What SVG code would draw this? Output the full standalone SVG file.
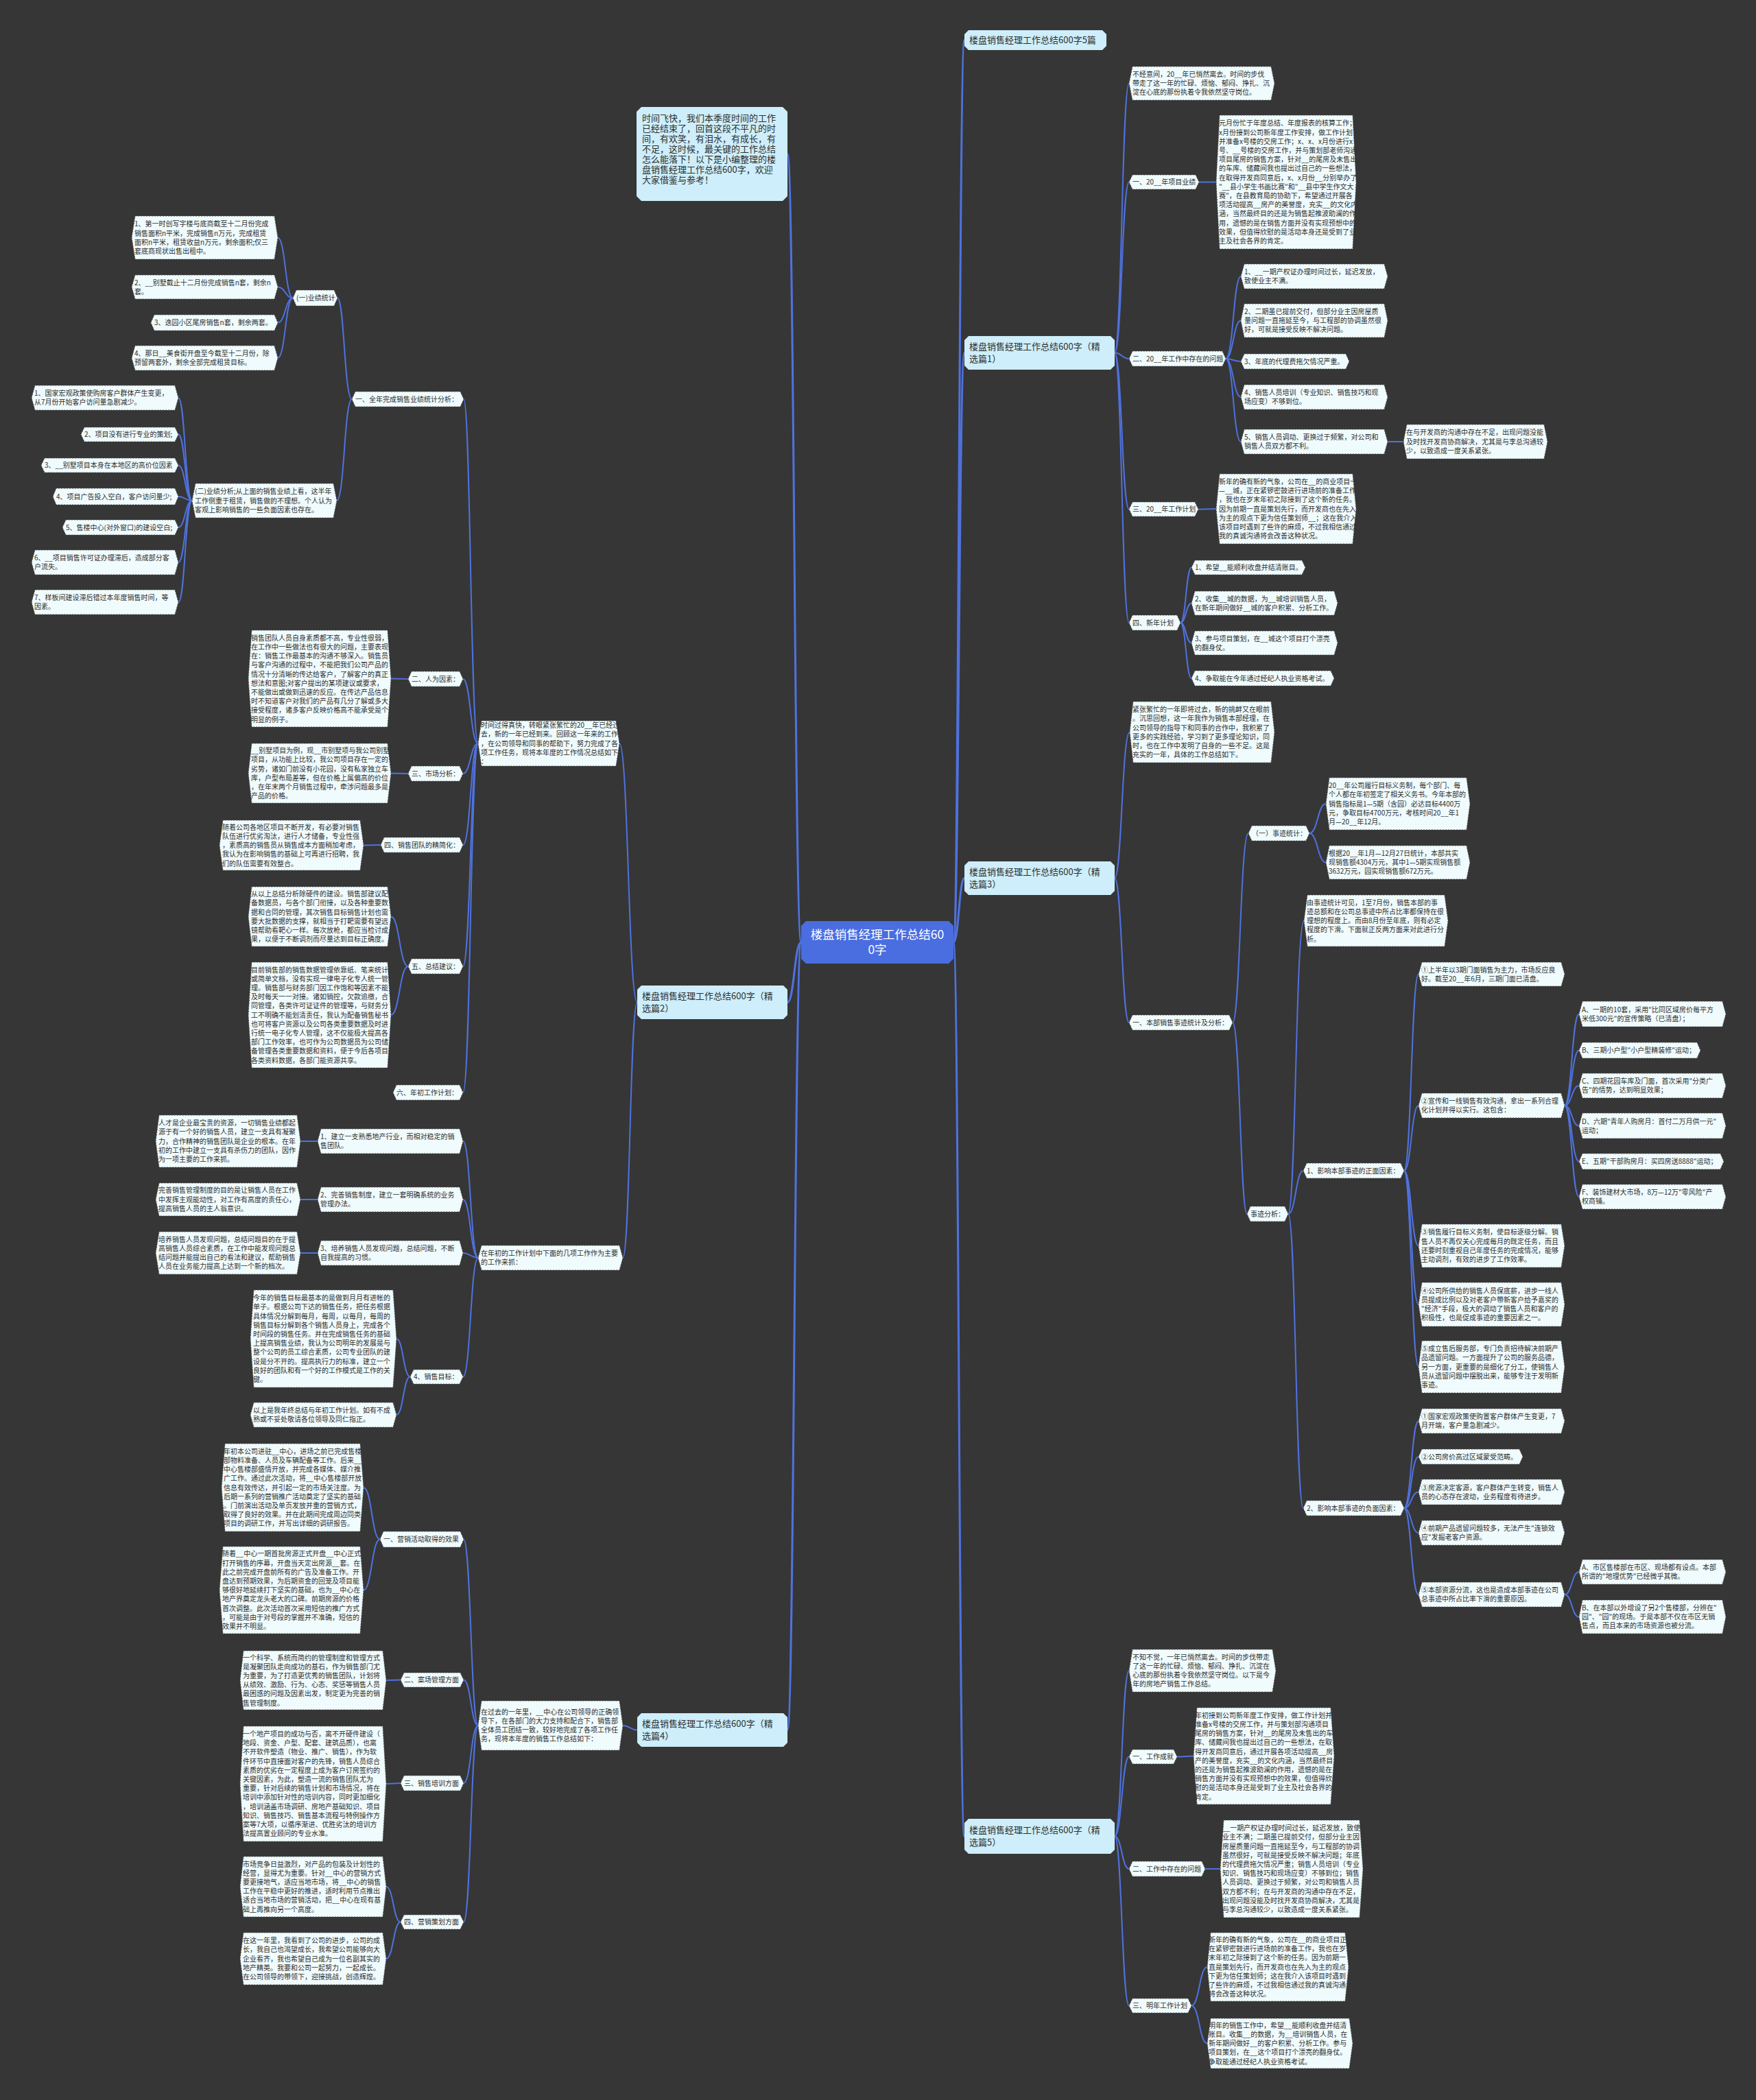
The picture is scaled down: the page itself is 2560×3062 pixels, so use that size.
<svg xmlns="http://www.w3.org/2000/svg" width="2560" height="3062" viewBox="0 0 2560 3062">
<style>
.bg{fill:#363636}
.c{fill:none;stroke:#4f72de;stroke-width:2}
.c3{fill:none;stroke:#4f72de;stroke-width:3}
.n polygon{fill:#f0fbfd;stroke:#555;stroke-width:1;stroke-dasharray:2 2}
.m polygon{fill:#cdeefa}
.r polygon{fill:#4a6de0}
text{font-family:"Noto Sans CJK SC","Noto Sans",sans-serif;fill:#2e2e2e}
.n text{font-size:10px}
.m text{font-size:13px}
.r text{font-size:17.5px;fill:#ffffff;text-anchor:middle}
.i text{font-size:13px}
</style>
<rect class="bg" x="0" y="0" width="2560" height="3062"/>
<g id="connectors">
<path class="c3" d="M1390 1374C1398 1374 1398 58.5 1406 58.5"/>
<path class="c3" d="M1390 1374C1398 1374 1398 514.5 1406 514.5"/>
<path class="c3" d="M1390 1374C1398 1374 1398 1280.5 1406 1280.5"/>
<path class="c3" d="M1390 1374C1398 1374 1398 2677.5 1406 2677.5"/>
<path class="c3" d="M1168 1374C1158 1374 1158 224.5 1148 224.5"/>
<path class="c3" d="M1168 1374C1158 1374 1158 1461.5 1148 1461.5"/>
<path class="c3" d="M1168 1374C1158 1374 1158 2522.5 1148 2522.5"/>
<path class="c" d="M1625 514.5C1635.5 514.5 1635.5 121.5 1646 121.5"/>
<path class="c" d="M1625 514.5C1635.5 514.5 1635.5 265.5 1646 265.5"/>
<path class="c" d="M1625 514.5C1635.5 514.5 1635.5 523 1646 523"/>
<path class="c" d="M1625 514.5C1635.5 514.5 1635.5 742.5 1646 742.5"/>
<path class="c" d="M1625 514.5C1635.5 514.5 1635.5 908 1646 908"/>
<path class="c" d="M1748 265.5L1773 265.5"/>
<path class="c" d="M1787 523C1798 523 1798 403 1809 403"/>
<path class="c" d="M1787 523C1798 523 1798 467.5 1809 467.5"/>
<path class="c" d="M1787 523C1798 523 1798 527 1809 527"/>
<path class="c" d="M1787 523C1798 523 1798 579 1809 579"/>
<path class="c" d="M1787 523C1798 523 1798 644 1809 644"/>
<path class="c" d="M2023 644L2046 644"/>
<path class="c" d="M1747 742.5C1760 742.5 1760 742 1773 742"/>
<path class="c" d="M1721 908C1729 908 1729 827.5 1737 827.5"/>
<path class="c" d="M1721 908C1729 908 1729 879.5 1737 879.5"/>
<path class="c" d="M1721 908C1729 908 1729 937.5 1737 937.5"/>
<path class="c" d="M1721 908C1729 908 1729 989 1737 989"/>
<path class="c" d="M1625 1280.5C1635.5 1280.5 1635.5 1067.5 1647 1067.5"/>
<path class="c" d="M1625 1280.5C1635.5 1280.5 1635.5 1491 1646 1491"/>
<path class="c" d="M1797 1491C1808 1491 1808 1215 1820 1215"/>
<path class="c" d="M1797 1491C1808 1491 1808 1770 1818 1770"/>
<path class="c" d="M1909 1215C1921 1215 1921 1172 1933 1172"/>
<path class="c" d="M1909 1215C1921 1215 1921 1257.5 1933 1257.5"/>
<path class="c" d="M1878 1770C1889 1770 1889 1342.5 1901 1342.5"/>
<path class="c" d="M1878 1770C1889 1770 1889 1707 1900 1707"/>
<path class="c" d="M1878 1770C1889 1770 1889 2199 1900 2199"/>
<path class="c" d="M2047 1707C2057.5 1707 2057.5 1420.5 2068 1420.5"/>
<path class="c" d="M2047 1707C2057.5 1707 2057.5 1612 2068 1612"/>
<path class="c" d="M2047 1707C2057.5 1707 2057.5 1816.5 2068 1816.5"/>
<path class="c" d="M2047 1707C2057.5 1707 2057.5 1902 2068 1902"/>
<path class="c" d="M2047 1707C2057.5 1707 2057.5 1993 2068 1993"/>
<path class="c" d="M2281 1612C2291.5 1612 2291.5 1478.5 2302 1478.5"/>
<path class="c" d="M2281 1612C2291.5 1612 2291.5 1531.5 2302 1531.5"/>
<path class="c" d="M2281 1612C2291.5 1612 2291.5 1583 2302 1583"/>
<path class="c" d="M2281 1612C2291.5 1612 2291.5 1641.5 2302 1641.5"/>
<path class="c" d="M2281 1612C2291.5 1612 2291.5 1693.5 2302 1693.5"/>
<path class="c" d="M2281 1612C2291.5 1612 2291.5 1745 2302 1745"/>
<path class="c" d="M2047 2199C2057.5 2199 2057.5 2072 2068 2072"/>
<path class="c" d="M2047 2199C2057.5 2199 2057.5 2124 2068 2124"/>
<path class="c" d="M2047 2199C2057.5 2199 2057.5 2175.5 2068 2175.5"/>
<path class="c" d="M2047 2199C2057.5 2199 2057.5 2235 2068 2235"/>
<path class="c" d="M2047 2199C2057.5 2199 2057.5 2325 2068 2325"/>
<path class="c" d="M2281 2325C2291.5 2325 2291.5 2292 2302 2292"/>
<path class="c" d="M2281 2325C2291.5 2325 2291.5 2357.5 2302 2357.5"/>
<path class="c" d="M1625 2677.5C1635.5 2677.5 1635.5 2436 1646 2436"/>
<path class="c" d="M1625 2677.5C1635.5 2677.5 1635.5 2561.5 1646 2561.5"/>
<path class="c" d="M1625 2677.5C1635.5 2677.5 1635.5 2725 1646 2725"/>
<path class="c" d="M1625 2677.5C1635.5 2677.5 1635.5 2924.5 1646 2924.5"/>
<path class="c" d="M1716 2561.5C1728 2561.5 1728 2560.5 1740 2560.5"/>
<path class="c" d="M1757 2725L1779 2725"/>
<path class="c" d="M1737 2924.5C1748.5 2924.5 1748.5 2868 1760 2868"/>
<path class="c" d="M1737 2924.5C1748.5 2924.5 1748.5 2979.5 1760 2979.5"/>
<path class="c" d="M929 1461.5C916 1461.5 916 1084 903 1084"/>
<path class="c" d="M929 1461.5C918.5 1461.5 918.5 1834 908 1834"/>
<path class="c" d="M697 1084C686 1084 686 582 676 582"/>
<path class="c" d="M697 1084C686 1084 686 990 675 990"/>
<path class="c" d="M697 1084C686 1084 686 1128 675 1128"/>
<path class="c" d="M697 1084C686 1084 686 1232 675 1232"/>
<path class="c" d="M697 1084C686 1084 686 1409 675 1409"/>
<path class="c" d="M697 1084C686 1084 686 1593 675 1593"/>
<path class="c" d="M513 582C502 582 502 434.5 492 434.5"/>
<path class="c" d="M513 582C502 582 502 730 491 730"/>
<path class="c" d="M427 434.5C416 434.5 416 346.5 405 346.5"/>
<path class="c" d="M427 434.5C416 434.5 416 418.5 405 418.5"/>
<path class="c" d="M427 434.5C416 434.5 416 470.5 405 470.5"/>
<path class="c" d="M427 434.5C416 434.5 416 522 405 522"/>
<path class="c" d="M280 730C270 730 270 580 260 580"/>
<path class="c" d="M280 730C270 730 270 633.5 260 633.5"/>
<path class="c" d="M280 730C270 730 270 678.5 260 678.5"/>
<path class="c" d="M280 730C270 730 270 724 260 724"/>
<path class="c" d="M280 730C270 730 270 769 260 769"/>
<path class="c" d="M280 730C270 730 270 820 260 820"/>
<path class="c" d="M280 730C270 730 270 878 260 878"/>
<path class="c" d="M595 990L570 989.5"/>
<path class="c" d="M595 1128L570 1127.5"/>
<path class="c" d="M555 1232L530 1232.5"/>
<path class="c" d="M595 1409C582.5 1409 582.5 1336.5 570 1336.5"/>
<path class="c" d="M595 1409C582.5 1409 582.5 1480 570 1480"/>
<path class="c" d="M697 1834C686 1834 686 1664 675 1664"/>
<path class="c" d="M697 1834C686 1834 686 1749 675 1749"/>
<path class="c" d="M697 1834C686 1834 686 1827 675 1827"/>
<path class="c" d="M697 1834C686 1834 686 2007.5 675 2007.5"/>
<path class="c" d="M463 1664L438 1664"/>
<path class="c" d="M463 1749L438 1749"/>
<path class="c" d="M463 1827L438 1827"/>
<path class="c" d="M598 2007.5C588 2007.5 588 1952 578 1952"/>
<path class="c" d="M598 2007.5C588 2007.5 588 2063 578 2063"/>
<path class="c" d="M929 2522.5C918.5 2522.5 918.5 2516 908 2516"/>
<path class="c" d="M697 2516C686.5 2516 686.5 2244.5 676 2244.5"/>
<path class="c" d="M697 2516C686.5 2516 686.5 2449.5 676 2449.5"/>
<path class="c" d="M697 2516C686.5 2516 686.5 2600 676 2600"/>
<path class="c" d="M697 2516C686.5 2516 686.5 2802.5 676 2802.5"/>
<path class="c" d="M554 2244.5C542 2244.5 542 2169 530 2169"/>
<path class="c" d="M554 2244.5C542 2244.5 542 2318.5 530 2318.5"/>
<path class="c" d="M584 2449.5L563 2450"/>
<path class="c" d="M584 2600L563 2601"/>
<path class="c" d="M584 2802.5C573.5 2802.5 573.5 2751 563 2751"/>
<path class="c" d="M584 2802.5C573.5 2802.5 573.5 2856 563 2856"/>
</g>

<g id="root" class="r"><polygon points="1175,1343 1383,1343 1390,1350 1390,1398 1383,1405 1175,1405 1168,1398 1168,1350"/><text x="1279" y="1369.3"><tspan x="1279">楼盘销售经理工作总结60</tspan><tspan x="1279" dy="22">0字</tspan></text></g>

<g id="intro" class="m i"><polygon points="935,156 1141,156 1148,163 1148,286 1141,293 935,293 928,286 928,163"/><text y="176.7"><tspan x="936">时间飞快，我们本季度时间的工作</tspan><tspan x="936" dy="15">已经结束了，回首这段不平凡的时</tspan><tspan x="936" dy="15">间，有欢笑，有泪水，有成长，有</tspan><tspan x="936" dy="15">不足，这时候，最关键的工作总结</tspan><tspan x="936" dy="15">怎么能落下！以下是小编整理的楼</tspan><tspan x="936" dy="15">盘销售经理工作总结600字，欢迎</tspan><tspan x="936" dy="15">大家借鉴与参考！</tspan></text></g>

<g id="main0" class="m"><polygon points="1412,44 1607,44 1613,50 1613,67 1607,73 1412,73 1406,67 1406,50"/><text y="63.2"><tspan x="1413">楼盘销售经理工作总结600字5篇</tspan></text></g>
<g id="main1" class="m"><polygon points="1412,490 1619,490 1625,496 1625,533 1619,539 1412,539 1406,533 1406,496"/><text y="510.2"><tspan x="1413">楼盘销售经理工作总结600字（精</tspan><tspan x="1413" dy="18">选篇1）</tspan></text></g>
<g id="main3" class="m"><polygon points="1412,1256 1619,1256 1625,1262 1625,1299 1619,1305 1412,1305 1406,1299 1406,1262"/><text y="1276.2"><tspan x="1413">楼盘销售经理工作总结600字（精</tspan><tspan x="1413" dy="18">选篇3）</tspan></text></g>
<g id="main5" class="m"><polygon points="1412,2652 1619,2652 1625,2658 1625,2697 1619,2703 1412,2703 1406,2697 1406,2658"/><text y="2673.2"><tspan x="1413">楼盘销售经理工作总结600字（精</tspan><tspan x="1413" dy="18">选篇5）</tspan></text></g>
<g id="main2" class="m"><polygon points="935,1437 1142,1437 1148,1443 1148,1480 1142,1486 935,1486 929,1480 929,1443"/><text y="1457.2"><tspan x="936">楼盘销售经理工作总结600字（精</tspan><tspan x="936" dy="18">选篇2）</tspan></text></g>
<g id="main4" class="m"><polygon points="935,2498 1142,2498 1148,2504 1148,2541 1142,2547 935,2547 929,2541 929,2504"/><text y="2518.2"><tspan x="936">楼盘销售经理工作总结600字（精</tspan><tspan x="936" dy="18">选篇4）</tspan></text></g>

<g id="a1" class="n"><polygon points="1646,121.5 1651,97 1853,97 1858,121.5 1853,146 1651,146"/><text y="111.9"><tspan x="1651">不经意间，20__年已悄然离去。时间的步伐</tspan><tspan x="1651" dy="13.2">带走了这一年的忙碌、烦恼、郁闷、挣扎、沉</tspan><tspan x="1651" dy="13.2">淀在心底的那份执着令我依然坚守岗位。</tspan></text></g>
<g id="a2" class="n"><polygon points="1646,265.5 1651,255 1743,255 1748,265.5 1743,276 1651,276"/><text y="269.1"><tspan x="1651">一、20__年项目业绩</tspan></text></g>
<g id="a2c" class="n"><polygon points="1773,265.5 1778,168 1972,168 1977,265.5 1972,363 1778,363"/><text y="183.3"><tspan x="1777">元月份忙于年度总结、年度报表的核算工作；</tspan><tspan x="1777" dy="13.2">x月份接到公司新年度工作安排，做工作计划</tspan><tspan x="1777" dy="13.2">并准备x号楼的交房工作；x、x、x月份进行x</tspan><tspan x="1777" dy="13.2">号、__号楼的交房工作，并与策划部老师沟通</tspan><tspan x="1777" dy="13.2">项目尾房的销售方案，针对__的尾房及未售出</tspan><tspan x="1777" dy="13.2">的车库、储藏间我也提出过自己的一些想法，</tspan><tspan x="1777" dy="13.2">在取得开发商同意后，x、x月份__分别举办了</tspan><tspan x="1777" dy="13.2">"__县小学生书画比赛"和"__县中学生作文大</tspan><tspan x="1777" dy="13.2">赛"，在县教育局的协助下，希望通过开展各</tspan><tspan x="1777" dy="13.2">项活动提高__房产的美誉度，充实__的文化内</tspan><tspan x="1777" dy="13.2">涵，当然最终目的还是为销售起推波助澜的作</tspan><tspan x="1777" dy="13.2">用，遗憾的是在销售方面并没有实现预想中的</tspan><tspan x="1777" dy="13.2">效果，但值得欣慰的是活动本身还是受到了业</tspan><tspan x="1777" dy="13.2">主及社会各界的肯定。</tspan></text></g>
<g id="a3" class="n"><polygon points="1646,523 1651,512 1782,512 1787,523 1782,534 1651,534"/><text y="526.6"><tspan x="1651">二、20__年工作中存在的问题</tspan></text></g>
<g id="a3c1" class="n"><polygon points="1809,403 1814,385 2018,385 2023,403 2018,421 1814,421"/><text y="400"><tspan x="1814">1、__一期产权证办理时间过长，延迟发放，</tspan><tspan x="1814" dy="13.2">致使业主不满。</tspan></text></g>
<g id="a3c2" class="n"><polygon points="1809,467.5 1814,443 2018,443 2023,467.5 2018,492 1814,492"/><text y="457.9"><tspan x="1814">2、二期虽已提前交付，但部分业主因房屋质</tspan><tspan x="1814" dy="13.2">量问题一直拖延至今，与工程部的协调虽然很</tspan><tspan x="1814" dy="13.2">好，可就是接受反映不解决问题。</tspan></text></g>
<g id="a3c3" class="n"><polygon points="1809,527 1814,516 1962,516 1967,527 1962,538 1814,538"/><text y="530.6"><tspan x="1814">3、年底的代理费拖欠情况严重。</tspan></text></g>
<g id="a3c4" class="n"><polygon points="1809,579 1814,561 2018,561 2023,579 2018,597 1814,597"/><text y="576"><tspan x="1814">4、销售人员培训（专业知识、销售技巧和现</tspan><tspan x="1814" dy="13.2">场应变）不够到位。</tspan></text></g>
<g id="a3c5" class="n"><polygon points="1809,644 1814,626 2018,626 2023,644 2018,662 1814,662"/><text y="641"><tspan x="1814">5、销售人员调动、更换过于频繁，对公司和</tspan><tspan x="1814" dy="13.2">销售人员双方都不利。</tspan></text></g>
<g id="a3c5c" class="n"><polygon points="2046,644 2051,619 2251,619 2256,644 2251,669 2051,669"/><text y="634.4"><tspan x="2050">在与开发商的沟通中存在不足，出现问题没能</tspan><tspan x="2050" dy="13.2">及时找开发商协商解决，尤其是与李总沟通较</tspan><tspan x="2050" dy="13.2">少，以致造成一度关系紧张。</tspan></text></g>
<g id="a4" class="n"><polygon points="1646,742.5 1651,732 1742,732 1747,742.5 1742,753 1651,753"/><text y="746.1"><tspan x="1651">三、20__年工作计划</tspan></text></g>
<g id="a4c" class="n"><polygon points="1773,742 1778,691 1972,691 1977,742 1972,793 1778,793"/><text y="706"><tspan x="1777">新年的确有新的气象，公司在__的商业项目一</tspan><tspan x="1777" dy="13.2">—__城，正在紧锣密鼓进行进场前的准备工作</tspan><tspan x="1777" dy="13.2">，我也在岁末年初之际接到了这个新的任务。</tspan><tspan x="1777" dy="13.2">因为前期一直是策划先行，而开发商也在先入</tspan><tspan x="1777" dy="13.2">为主的观点下更为信任策划师__；这在我介入</tspan><tspan x="1777" dy="13.2">该项目时遇到了些许的麻烦，不过我相信通过</tspan><tspan x="1777" dy="13.2">我的真诚沟通将会改善这种状况。</tspan></text></g>
<g id="a5" class="n"><polygon points="1646,908 1651,897 1716,897 1721,908 1716,919 1651,919"/><text y="911.6"><tspan x="1651">四、新年计划</tspan></text></g>
<g id="a5c1" class="n"><polygon points="1737,827.5 1742,817 1898,817 1903,827.5 1898,838 1742,838"/><text y="831.1"><tspan x="1742">1、希望__能顺利收盘并结清账目。</tspan></text></g>
<g id="a5c2" class="n"><polygon points="1737,879.5 1742,862 1945,862 1950,879.5 1945,897 1742,897"/><text y="876.5"><tspan x="1742">2、收集__城的数据，为__城培训销售人员，</tspan><tspan x="1742" dy="13.2">在新年期间做好__城的客户积累、分析工作。</tspan></text></g>
<g id="a5c3" class="n"><polygon points="1737,937.5 1742,920 1945,920 1950,937.5 1945,955 1742,955"/><text y="934.5"><tspan x="1742">3、参与项目策划，在__城这个项目打个漂亮</tspan><tspan x="1742" dy="13.2">的翻身仗。</tspan></text></g>
<g id="a5c4" class="n"><polygon points="1737,989 1742,978 1940,978 1945,989 1940,1000 1742,1000"/><text y="992.6"><tspan x="1742">4、争取能在今年通过经纪人执业资格考试。</tspan></text></g>

<g id="b1" class="n"><polygon points="1647,1067.5 1652,1023 1853,1023 1858,1067.5 1853,1112 1652,1112"/><text y="1038.1"><tspan x="1651">紧张繁忙的一年即将过去，新的挑衅又在眼前</tspan><tspan x="1651" dy="13.2">。沉思回想，这一年我作为销售本部经理，在</tspan><tspan x="1651" dy="13.2">公司领导的指导下和同事的合作中，我积累了</tspan><tspan x="1651" dy="13.2">更多的实践经验，学习到了更多理论知识，同</tspan><tspan x="1651" dy="13.2">时，也在工作中发明了自身的一些不足。这是</tspan><tspan x="1651" dy="13.2">充实的一年，具体的工作总结如下。</tspan></text></g>
<g id="b2" class="n"><polygon points="1646,1491 1651,1480 1792,1480 1797,1491 1792,1502 1651,1502"/><text y="1494.6"><tspan x="1651">一、本部销售事迹统计及分析：</tspan></text></g>
<g id="b3" class="n"><polygon points="1820,1215 1825,1204 1904,1204 1909,1215 1904,1226 1825,1226"/><text y="1218.6"><tspan x="1825">（一）事迹统计：</tspan></text></g>
<g id="b3c1" class="n"><polygon points="1933,1172 1938,1134 2138,1134 2143,1172 2138,1210 1938,1210"/><text y="1149.2"><tspan x="1937">20__年公司履行目标义务制，每个部门、每</tspan><tspan x="1937" dy="13.2">个人都在年初签定了相关义务书。今年本部的</tspan><tspan x="1937" dy="13.2">销售指标是1—5期（含园）必达目标4400万</tspan><tspan x="1937" dy="13.2">元，争取目标4700万元，考核时间20__年1</tspan><tspan x="1937" dy="13.2">月—20__年12月。</tspan></text></g>
<g id="b3c2" class="n"><polygon points="1933,1257.5 1938,1233 2138,1233 2143,1257.5 2138,1282 1938,1282"/><text y="1247.9"><tspan x="1937">根据20__年1月—12月27日统计，本部共实</tspan><tspan x="1937" dy="13.2">现销售额4304万元，其中1—5期实现销售额</tspan><tspan x="1937" dy="13.2">3632万元，园实现销售额672万元。</tspan></text></g>
<g id="b4" class="n"><polygon points="1818,1770 1823,1759 1873,1759 1878,1770 1873,1781 1823,1781"/><text y="1773.6"><tspan x="1823">事迹分析：</tspan></text></g>
<g id="b5" class="n"><polygon points="1901,1342.5 1906,1305 2106,1305 2111,1342.5 2106,1380 1906,1380"/><text y="1319.7"><tspan x="1905">由事迹统计可见，1至7月份，销售本部的事</tspan><tspan x="1905" dy="13.2">迹总额和在公司总事迹中所占比率都保持在很</tspan><tspan x="1905" dy="13.2">理想的程度上。而由8月份至年底，则有必定</tspan><tspan x="1905" dy="13.2">程度的下滑。下面就正反两方面来对此进行分</tspan><tspan x="1905" dy="13.2">析。</tspan></text></g>
<g id="b6" class="n"><polygon points="1900,1707 1905,1696 2042,1696 2047,1707 2042,1718 1905,1718"/><text y="1710.6"><tspan x="1905">1、影响本部事迹的正面因素：</tspan></text></g>
<g id="b6c1" class="n"><polygon points="2068,1420.5 2073,1403 2276,1403 2281,1420.5 2276,1438 2073,1438"/><text y="1417.5"><tspan x="2072">①上半年以3期门面销售为主力，市场反应良</tspan><tspan x="2072" dy="13.2">好。截至20__年6月，三期门面已清盘。</tspan></text></g>
<g id="b6c2" class="n"><polygon points="2068,1612 2073,1594 2276,1594 2281,1612 2276,1630 2073,1630"/><text y="1609"><tspan x="2072">②宣传和一线销售有效沟通，拿出一系列合理</tspan><tspan x="2072" dy="13.2">化计划并得以实行。这包含：</tspan></text></g>
<g id="b6c3" class="n"><polygon points="2068,1816.5 2073,1785 2276,1785 2281,1816.5 2276,1848 2073,1848"/><text y="1800.3"><tspan x="2072">③销售履行目标义务制，使目标逐级分解。销</tspan><tspan x="2072" dy="13.2">售人员不再仅关心完成每月的既定任务，而且</tspan><tspan x="2072" dy="13.2">还要时刻重视自己年度任务的完成情况，能够</tspan><tspan x="2072" dy="13.2">主动调剂，有效的进步了工作效率。</tspan></text></g>
<g id="b6c4" class="n"><polygon points="2068,1902 2073,1870 2276,1870 2281,1902 2276,1934 2073,1934"/><text y="1885.8"><tspan x="2072">④公司所供给的销售人员保底薪，进步一线人</tspan><tspan x="2072" dy="13.2">员提成比例以及对老客户带新客户给予嘉奖的</tspan><tspan x="2072" dy="13.2">"经济"手段，极大的调动了销售人员和客户的</tspan><tspan x="2072" dy="13.2">积极性，也是促成事迹的重要因素之一。</tspan></text></g>
<g id="b6c5" class="n"><polygon points="2068,1993 2073,1955 2276,1955 2281,1993 2276,2031 2073,2031"/><text y="1970.2"><tspan x="2072">⑤成立售后服务部，专门负责招待解决前期产</tspan><tspan x="2072" dy="13.2">品遗留问题。一方面提升了公司的服务品德，</tspan><tspan x="2072" dy="13.2">另一方面，更重要的是细化了分工，使销售人</tspan><tspan x="2072" dy="13.2">员从遗留问题中摆脱出来，能够专注于发明新</tspan><tspan x="2072" dy="13.2">事迹。</tspan></text></g>
<g id="b6c2a" class="n"><polygon points="2302,1478.5 2307,1460 2511,1460 2516,1478.5 2511,1497 2307,1497"/><text y="1475.5"><tspan x="2306">A、一期的10套，采用"比同区域房价每平方</tspan><tspan x="2306" dy="13.2">米低300元"的宣传策略（已清盘）；</tspan></text></g>
<g id="b6c2b" class="n"><polygon points="2302,1531.5 2307,1520 2474,1520 2479,1531.5 2474,1543 2307,1543"/><text y="1535.1"><tspan x="2306">B、三期小户型"小户型精装修"运动；</tspan></text></g>
<g id="b6c2c" class="n"><polygon points="2302,1583 2307,1565 2511,1565 2516,1583 2511,1601 2307,1601"/><text y="1580"><tspan x="2306">C、四期花园车库及门面，首次采用"分类广</tspan><tspan x="2306" dy="13.2">告"的情势，达到明显效果；</tspan></text></g>
<g id="b6c2d" class="n"><polygon points="2302,1641.5 2307,1623 2511,1623 2516,1641.5 2511,1660 2307,1660"/><text y="1638.5"><tspan x="2306">D、六期"青年人购房月：首付二万月供一元"</tspan><tspan x="2306" dy="13.2">运动；</tspan></text></g>
<g id="b6c2e" class="n"><polygon points="2302,1693.5 2307,1682 2508,1682 2513,1693.5 2508,1705 2307,1705"/><text y="1697.1"><tspan x="2306">E、五期"干部购房月：买四房送8888"运动；</tspan></text></g>
<g id="b6c2f" class="n"><polygon points="2302,1745 2307,1727 2511,1727 2516,1745 2511,1763 2307,1763"/><text y="1742"><tspan x="2306">F、装饰建材大市场，8万—12万"零风险"产</tspan><tspan x="2306" dy="13.2">权商铺。</tspan></text></g>
<g id="b7" class="n"><polygon points="1900,2199 1905,2188 2042,2188 2047,2199 2042,2210 1905,2210"/><text y="2202.6"><tspan x="1905">2、影响本部事迹的负面因素：</tspan></text></g>
<g id="b7c1" class="n"><polygon points="2068,2072 2073,2054 2276,2054 2281,2072 2276,2090 2073,2090"/><text y="2069"><tspan x="2072">①国家宏观政策使购置客户群体产生变更，7</tspan><tspan x="2072" dy="13.2">月开端，客户量急剧减少。</tspan></text></g>
<g id="b7c2" class="n"><polygon points="2068,2124 2073,2113 2215,2113 2220,2124 2215,2135 2073,2135"/><text y="2127.6"><tspan x="2072">②公司房价高过区域蒙受范畴。</tspan></text></g>
<g id="b7c3" class="n"><polygon points="2068,2175.5 2073,2157 2276,2157 2281,2175.5 2276,2194 2073,2194"/><text y="2172.5"><tspan x="2072">③房源决定客源，客户群体产生转变，销售人</tspan><tspan x="2072" dy="13.2">员的心态存在波动，业务程度有待进步。</tspan></text></g>
<g id="b7c4" class="n"><polygon points="2068,2235 2073,2217 2276,2217 2281,2235 2276,2253 2073,2253"/><text y="2232"><tspan x="2072">④前期产品遗留问题较多，无法产生"连锁效</tspan><tspan x="2072" dy="13.2">应"发掘老客户资源。</tspan></text></g>
<g id="b7c5" class="n"><polygon points="2068,2325 2073,2307 2276,2307 2281,2325 2276,2343 2073,2343"/><text y="2322"><tspan x="2072">⑤本部资源分流，这也是造成本部事迹在公司</tspan><tspan x="2072" dy="13.2">总事迹中所占比率下滑的重要原因。</tspan></text></g>
<g id="b7c5a" class="n"><polygon points="2302,2292 2307,2274 2511,2274 2516,2292 2511,2310 2307,2310"/><text y="2289"><tspan x="2306">A、市区售楼部在市区、现场都有设点。本部</tspan><tspan x="2306" dy="13.2">所谓的"地理优势"已经微乎其微。</tspan></text></g>
<g id="b7c5b" class="n"><polygon points="2302,2357.5 2307,2333 2511,2333 2516,2357.5 2511,2382 2307,2382"/><text y="2347.9"><tspan x="2306">B、在本部以外增设了另2个售楼部，分辨在"</tspan><tspan x="2306" dy="13.2">园"、"园"的现场。于是本部不仅在市区无销</tspan><tspan x="2306" dy="13.2">售点，而且本来的市场资源也被分流。</tspan></text></g>

<g id="c1" class="n"><polygon points="1646,2436 1651,2405 1855,2405 1860,2436 1855,2467 1651,2467"/><text y="2419.8"><tspan x="1651">不知不觉，一年已悄然离去。时间的步伐带走</tspan><tspan x="1651" dy="13.2">了这一年的忙碌、烦恼、郁闷、挣扎、沉淀在</tspan><tspan x="1651" dy="13.2">心底的那份执着令我依然坚守岗位。以下是今</tspan><tspan x="1651" dy="13.2">年的房地产销售工作总结。</tspan></text></g>
<g id="c2" class="n"><polygon points="1646,2561.5 1651,2551 1711,2551 1716,2561.5 1711,2572 1651,2572"/><text y="2565.1"><tspan x="1651">一、工作成就</tspan></text></g>
<g id="c2c" class="n"><polygon points="1740,2560.5 1745,2490 1940,2490 1945,2560.5 1940,2631 1745,2631"/><text y="2504.7"><tspan x="1742">年初接到公司新年度工作安排，做工作计划并</tspan><tspan x="1742" dy="13.2">准备x号楼的交房工作，并与策划部沟通项目</tspan><tspan x="1742" dy="13.2">尾房的销售方案，针对__的尾房及未售出的车</tspan><tspan x="1742" dy="13.2">库、储藏间我也提出过自己的一些想法，在取</tspan><tspan x="1742" dy="13.2">得开发商同意后，通过开展各项活动提高__房</tspan><tspan x="1742" dy="13.2">产的美誉度，充实__的文化内涵，当然最终目</tspan><tspan x="1742" dy="13.2">的还是为销售起推波助澜的作用，遗憾的是在</tspan><tspan x="1742" dy="13.2">销售方面并没有实现预想中的效果，但值得欣</tspan><tspan x="1742" dy="13.2">慰的是活动本身还是受到了业主及社会各界的</tspan><tspan x="1742" dy="13.2">肯定。</tspan></text></g>
<g id="c3" class="n"><polygon points="1646,2725 1651,2714 1752,2714 1757,2725 1752,2736 1651,2736"/><text y="2728.6"><tspan x="1651">二、工作中存在的问题</tspan></text></g>
<g id="c3c" class="n"><polygon points="1779,2725 1784,2654 1982,2654 1987,2725 1982,2796 1784,2796"/><text y="2669.2"><tspan x="1782">__一期产权证办理时间过长，延迟发放，致使</tspan><tspan x="1782" dy="13.2">业主不满；二期虽已提前交付，但部分业主因</tspan><tspan x="1782" dy="13.2">房屋质量问题一直拖延至今，与工程部的协调</tspan><tspan x="1782" dy="13.2">虽然很好，可就是接受反映不解决问题；年底</tspan><tspan x="1782" dy="13.2">的代理费拖欠情况严重；销售人员培训（专业</tspan><tspan x="1782" dy="13.2">知识、销售技巧和现场应变）不够到位；销售</tspan><tspan x="1782" dy="13.2">人员调动、更换过于频繁，对公司和销售人员</tspan><tspan x="1782" dy="13.2">双方都不利；在与开发商的沟通中存在不足，</tspan><tspan x="1782" dy="13.2">出现问题没能及时找开发商协商解决，尤其是</tspan><tspan x="1782" dy="13.2">与李总沟通较少，以致造成一度关系紧张。</tspan></text></g>
<g id="c4" class="n"><polygon points="1646,2924.5 1651,2914 1732,2914 1737,2924.5 1732,2935 1651,2935"/><text y="2928.1"><tspan x="1651">三、明年工作计划</tspan></text></g>
<g id="c4c1" class="n"><polygon points="1760,2868 1765,2818 1961,2818 1966,2868 1961,2918 1765,2918"/><text y="2832"><tspan x="1762">新年的确有新的气象，公司在__的商业项目正</tspan><tspan x="1762" dy="13.2">在紧锣密鼓进行进场前的准备工作，我也在岁</tspan><tspan x="1762" dy="13.2">末年初之际接到了这个新的任务。因为前期一</tspan><tspan x="1762" dy="13.2">直是策划先行，而开发商也在先入为主的观点</tspan><tspan x="1762" dy="13.2">下更为信任策划师；这在我介入该项目时遇到</tspan><tspan x="1762" dy="13.2">了些许的麻烦，不过我相信通过我的真诚沟通</tspan><tspan x="1762" dy="13.2">将会改善这种状况。</tspan></text></g>
<g id="c4c2" class="n"><polygon points="1760,2979.5 1765,2943 1967,2943 1972,2979.5 1967,3016 1765,3016"/><text y="2956.7"><tspan x="1762">明年的销售工作中，希望__能顺利收盘并结清</tspan><tspan x="1762" dy="13.2">账目。收集__的数据，为__培训销售人员，在</tspan><tspan x="1762" dy="13.2">新年期间做好__的客户积累、分析工作。参与</tspan><tspan x="1762" dy="13.2">项目策划，在__这个项目打个漂亮的翻身仗。</tspan><tspan x="1762" dy="13.2">争取能通过经纪人执业资格考试。</tspan></text></g>

<g id="d0" class="n"><polygon points="697,1084 702,1051 898,1051 903,1084 898,1117 702,1117"/><text y="1061.2"><tspan x="701">时间过得真快，转眼紧张繁忙的20__年已经过</tspan><tspan x="701" dy="13.2">去，新的一年已经到来。回顾这一年来的工作</tspan><tspan x="701" dy="13.2">，在公司领导和同事的帮助下，努力完成了各</tspan><tspan x="701" dy="13.2">项工作任务，现将本年度的工作情况总结如下</tspan><tspan x="701" dy="13.2">：</tspan></text></g>
<g id="d1" class="n"><polygon points="513,582 518,571 671,571 676,582 671,593 518,593"/><text y="585.6"><tspan x="518">一、全年完成销售业绩统计分析：</tspan></text></g>
<g id="d1a" class="n"><polygon points="427,434.5 432,423 487,423 492,434.5 487,446 432,446"/><text y="438.1"><tspan x="432">(一)业绩统计</tspan></text></g>
<g id="d1a1" class="n"><polygon points="192,346.5 197,315 400,315 405,346.5 400,378 197,378"/><text y="330.3"><tspan x="196">1、第一时创写字楼与底商截至十二月份完成</tspan><tspan x="196" dy="13.2">销售面积n平米，完成销售n万元，完成租赁</tspan><tspan x="196" dy="13.2">面积n平米，租赁收益n万元，剩余面积;仅三</tspan><tspan x="196" dy="13.2">套底商现状出售出租中。</tspan></text></g>
<g id="d1a2" class="n"><polygon points="192,418.5 197,401 400,401 405,418.5 400,436 197,436"/><text y="415.5"><tspan x="196">2、__别墅截止十二月份完成销售n套，剩余n</tspan><tspan x="196" dy="13.2">套。</tspan></text></g>
<g id="d1a3" class="n"><polygon points="220,470.5 225,459 400,459 405,470.5 400,482 225,482"/><text y="474.1"><tspan x="225">3、逸园小区尾房销售n套，剩余两套。</tspan></text></g>
<g id="d1a4" class="n"><polygon points="192,522 197,504 400,504 405,522 400,540 197,540"/><text y="519"><tspan x="196">4、那日__美食街开盘至今截至十二月份，除</tspan><tspan x="196" dy="13.2">预留两套外，剩余全部完成租赁目标。</tspan></text></g>
<g id="d1b" class="n"><polygon points="280,730 285,705 486,705 491,730 486,755 285,755"/><text y="720.4"><tspan x="284">(二)业绩分析;从上面的销售业绩上看，这半年</tspan><tspan x="284" dy="13.2">工作侧重于租赁，销售做的不理想。个人认为</tspan><tspan x="284" dy="13.2">客观上影响销售的一些负面因素也存在。</tspan></text></g>
<g id="d1b1" class="n"><polygon points="46,580 51,562 255,562 260,580 255,598 51,598"/><text y="577"><tspan x="50">1、国家宏观政策使购房客户群体产生变更，</tspan><tspan x="50" dy="13.2">从7月份开始客户访问量急剧减少。</tspan></text></g>
<g id="d1b2" class="n"><polygon points="118,633.5 123,623 255,623 260,633.5 255,644 123,644"/><text y="637.1"><tspan x="123">2、项目没有进行专业的策划;</tspan></text></g>
<g id="d1b3" class="n"><polygon points="60,678.5 65,668 255,668 260,678.5 255,689 65,689"/><text y="682.1"><tspan x="65">3、__别墅项目本身在本地区的高价位因素</tspan></text></g>
<g id="d1b4" class="n"><polygon points="77,724 82,712 255,712 260,724 255,736 82,736"/><text y="727.6"><tspan x="82">4、项目广告投入空白，客户访问量少;</tspan></text></g>
<g id="d1b5" class="n"><polygon points="91,769 96,758 255,758 260,769 255,780 96,780"/><text y="772.6"><tspan x="96">5、售楼中心(对外窗口)的建设空白;</tspan></text></g>
<g id="d1b6" class="n"><polygon points="46,820 51,802 255,802 260,820 255,838 51,838"/><text y="817"><tspan x="50">6、__项目销售许可证办理滞后，造成部分客</tspan><tspan x="50" dy="13.2">户流失。</tspan></text></g>
<g id="d1b7" class="n"><polygon points="46,878 51,860 255,860 260,878 255,896 51,896"/><text y="875"><tspan x="50">7、样板间建设滞后错过本年度销售时间，等</tspan><tspan x="50" dy="13.2">因素。</tspan></text></g>
<g id="d2" class="n"><polygon points="595,990 600,979 670,979 675,990 670,1001 600,1001"/><text y="993.6"><tspan x="600">二、人为因素：</tspan></text></g>
<g id="d2c" class="n"><polygon points="362,989.5 367,919 565,919 570,989.5 565,1060 367,1060"/><text y="933.7"><tspan x="366">销售团队人员自身素质都不高，专业性很弱，</tspan><tspan x="366" dy="13.2">在工作中一些做法也有很大的问题，主要表现</tspan><tspan x="366" dy="13.2">在：销售工作最基本的沟通不够深入。销售员</tspan><tspan x="366" dy="13.2">与客户沟通的过程中，不能把我们公司产品的</tspan><tspan x="366" dy="13.2">情况十分清晰的传达给客户，了解客户的真正</tspan><tspan x="366" dy="13.2">想法和意图;对客户提出的某项建议或要求，</tspan><tspan x="366" dy="13.2">不能做出或做到迅速的反应。在传达产品信息</tspan><tspan x="366" dy="13.2">时不知道客户对我们的产品有几分了解或多大</tspan><tspan x="366" dy="13.2">接受程度，诸多客户反映价格高不能承受是个</tspan><tspan x="366" dy="13.2">明显的例子。</tspan></text></g>
<g id="d3" class="n"><polygon points="595,1128 600,1117 670,1117 675,1128 670,1139 600,1139"/><text y="1131.6"><tspan x="600">三、市场分析：</tspan></text></g>
<g id="d3c" class="n"><polygon points="362,1127.5 367,1084 565,1084 570,1127.5 565,1171 367,1171"/><text y="1098.1"><tspan x="366">__别墅项目为例，现__市别墅项与我公司别墅</tspan><tspan x="366" dy="13.2">项目，从功能上比较，我公司项目存在一定的</tspan><tspan x="366" dy="13.2">劣势，诸如门前没有小花园，没有私家独立车</tspan><tspan x="366" dy="13.2">库，户型布局差等，但在价格上属偏高的价位</tspan><tspan x="366" dy="13.2">，在年末两个月销售过程中，牵涉问题最多是</tspan><tspan x="366" dy="13.2">产品的价格。</tspan></text></g>
<g id="d4" class="n"><polygon points="555,1232 560,1221 670,1221 675,1232 670,1243 560,1243"/><text y="1235.6"><tspan x="560">四、销售团队的精简化：</tspan></text></g>
<g id="d4c" class="n"><polygon points="320,1232.5 325,1196 525,1196 530,1232.5 525,1269 325,1269"/><text y="1209.7"><tspan x="324">随着公司各地区项目不断开发，有必要对销售</tspan><tspan x="324" dy="13.2">队伍进行优劣淘汰，进行人才储备，专业性强</tspan><tspan x="324" dy="13.2">，素质高的销售员从销售成本方面稍加考虑，</tspan><tspan x="324" dy="13.2">我认为在影响销售的基础上可再进行招聘，我</tspan><tspan x="324" dy="13.2">们的队伍需要有效整合。</tspan></text></g>
<g id="d5" class="n"><polygon points="595,1409 600,1398 670,1398 675,1409 670,1420 600,1420"/><text y="1412.6"><tspan x="600">五、总结建议：</tspan></text></g>
<g id="d5c1" class="n"><polygon points="362,1336.5 367,1293 565,1293 570,1336.5 565,1380 367,1380"/><text y="1307.1"><tspan x="366">从以上总结分析除硬件的建设。销售部建议配</tspan><tspan x="366" dy="13.2">备数据员，与各个部门衔接，以及各种重要数</tspan><tspan x="366" dy="13.2">据和合同的管理，其次销售目标销售计划也需</tspan><tspan x="366" dy="13.2">要大批数据的支撑，就相当于打靶需要有望远</tspan><tspan x="366" dy="13.2">镜帮助看靶心一样。每次放枪，都应当检讨成</tspan><tspan x="366" dy="13.2">果，以便于不断调剂而尽量达到目标正确度。</tspan></text></g>
<g id="d5c2" class="n"><polygon points="362,1480 367,1403 565,1403 570,1480 565,1557 367,1557"/><text y="1417.6"><tspan x="366">目前销售部的销售数据管理依靠纸、笔来统计</tspan><tspan x="366" dy="13.2">或简单文档，没有实现一律电子化专人统一管</tspan><tspan x="366" dy="13.2">理。销售部与财务部门因工作饱和等因素不能</tspan><tspan x="366" dy="13.2">及时每天一一对接。诸如销控，欠款追缴，合</tspan><tspan x="366" dy="13.2">同管理，各类许可证证件的管理等，与财务分</tspan><tspan x="366" dy="13.2">工不明确不能划清责任，我认为配备销售秘书</tspan><tspan x="366" dy="13.2">也可将客户资源以及公司各类重要数据及时进</tspan><tspan x="366" dy="13.2">行统一电子化专人管理，这不仅能极大提高各</tspan><tspan x="366" dy="13.2">部门工作效率，也可作为公司数据员为公司储</tspan><tspan x="366" dy="13.2">备管理各类重要数据和资料，便于今后各项目</tspan><tspan x="366" dy="13.2">各类资料数据，各部门能资源共享。</tspan></text></g>
<g id="d6" class="n"><polygon points="573,1593 578,1582 670,1582 675,1593 670,1604 578,1604"/><text y="1596.6"><tspan x="578">六、年初工作计划：</tspan></text></g>

<g id="e0" class="n"><polygon points="697,1834 702,1816 903,1816 908,1834 903,1852 702,1852"/><text y="1831"><tspan x="701">在年初的工作计划中下面的几项工作作为主要</tspan><tspan x="701" dy="13.2">的工作来抓：</tspan></text></g>
<g id="e1" class="n"><polygon points="463,1664 468,1646 670,1646 675,1664 670,1682 468,1682"/><text y="1661"><tspan x="467">1、建立一支熟悉地产行业，而相对稳定的销</tspan><tspan x="467" dy="13.2">售团队。</tspan></text></g>
<g id="e1c" class="n"><polygon points="227,1664 232,1626 433,1626 438,1664 433,1702 232,1702"/><text y="1641.2"><tspan x="231">人才是企业最宝贵的资源，一切销售业绩都起</tspan><tspan x="231" dy="13.2">源于有一个好的销售人员，建立一支具有凝聚</tspan><tspan x="231" dy="13.2">力，合作精神的销售团队是企业的根本。在年</tspan><tspan x="231" dy="13.2">初的工作中建立一支具有杀伤力的团队，因作</tspan><tspan x="231" dy="13.2">为一项主要的工作来抓。</tspan></text></g>
<g id="e2" class="n"><polygon points="463,1749 468,1731 670,1731 675,1749 670,1767 468,1767"/><text y="1746"><tspan x="467">2、完善销售制度，建立一套明确系统的业务</tspan><tspan x="467" dy="13.2">管理办法。</tspan></text></g>
<g id="e2c" class="n"><polygon points="227,1749 232,1725 433,1725 438,1749 433,1773 232,1773"/><text y="1739.4"><tspan x="231">完善销售管理制度的目的是让销售人员在工作</tspan><tspan x="231" dy="13.2">中发挥主观能动性，对工作有高度的责任心，</tspan><tspan x="231" dy="13.2">提高销售人员的主人翁意识。</tspan></text></g>
<g id="e3" class="n"><polygon points="463,1827 468,1809 670,1809 675,1827 670,1845 468,1845"/><text y="1824"><tspan x="467">3、培养销售人员发现问题，总结问题，不断</tspan><tspan x="467" dy="13.2">自我提高的习惯。</tspan></text></g>
<g id="e3c" class="n"><polygon points="227,1827 232,1796 433,1796 438,1827 433,1858 232,1858"/><text y="1810.8"><tspan x="231">培养销售人员发现问题，总结问题目的在于提</tspan><tspan x="231" dy="13.2">高销售人员综合素质，在工作中能发现问题总</tspan><tspan x="231" dy="13.2">结问题并能提出自己的看法和建议，帮助销售</tspan><tspan x="231" dy="13.2">人员在业务能力提高上达到一个新的档次。</tspan></text></g>
<g id="e4" class="n"><polygon points="598,2007.5 603,1997 670,1997 675,2007.5 670,2018 603,2018"/><text y="2011.1"><tspan x="603">4、销售目标：</tspan></text></g>
<g id="e4c1" class="n"><polygon points="365,1952 370,1881 573,1881 578,1952 573,2023 370,2023"/><text y="1896.2"><tspan x="369">今年的销售目标最基本的是做到月月有进帐的</tspan><tspan x="369" dy="13.2">单子。根据公司下达的销售任务，把任务根据</tspan><tspan x="369" dy="13.2">具体情况分解到每月，每周，以每月，每周的</tspan><tspan x="369" dy="13.2">销售目标分解到各个销售人员身上，完成各个</tspan><tspan x="369" dy="13.2">时间段的销售任务。并在完成销售任务的基础</tspan><tspan x="369" dy="13.2">上提高销售业绩，我认为公司明年的发展是与</tspan><tspan x="369" dy="13.2">整个公司的员工综合素质，公司专业团队的建</tspan><tspan x="369" dy="13.2">设是分不开的。提高执行力的标准，建立一个</tspan><tspan x="369" dy="13.2">良好的团队和有一个好的工作模式是工作的关</tspan><tspan x="369" dy="13.2">键。</tspan></text></g>
<g id="e4c2" class="n"><polygon points="365,2063 370,2045 573,2045 578,2063 573,2081 370,2081"/><text y="2060"><tspan x="369">以上是我年终总结与年初工作计划。如有不成</tspan><tspan x="369" dy="13.2">熟或不妥处敬请各位领导及同仁指正。</tspan></text></g>

<g id="f0" class="n"><polygon points="697,2516 702,2480 903,2480 908,2516 903,2552 702,2552"/><text y="2499.8"><tspan x="701">在过去的一年里，__中心在公司领导的正确领</tspan><tspan x="701" dy="13.2">导下，在各部门的大力支持和配合下，销售部</tspan><tspan x="701" dy="13.2">全体员工团结一致，较好地完成了各项工作任</tspan><tspan x="701" dy="13.2">务，现将本年度的销售工作总结如下：</tspan></text></g>
<g id="f1" class="n"><polygon points="554,2244.5 559,2233 671,2233 676,2244.5 671,2256 559,2256"/><text y="2248.1"><tspan x="559">一、营销活动取得的效果</tspan></text></g>
<g id="f1c1" class="n"><polygon points="323,2169 328,2105 525,2105 530,2169 525,2233 328,2233"/><text y="2119.8"><tspan x="326">年初本公司进驻__中心，进场之前已完成售楼</tspan><tspan x="326" dy="13.2">部物料准备、人员及车辆配备等工作。后来__</tspan><tspan x="326" dy="13.2">中心售楼部盛情开放，并完成各媒体、媒介推</tspan><tspan x="326" dy="13.2">广工作。通过此次活动，将__中心售楼部开放</tspan><tspan x="326" dy="13.2">信息有效传达，并引起一定的市场关注度。为</tspan><tspan x="326" dy="13.2">后期一系列的营销推广活动奠定了坚实的基础</tspan><tspan x="326" dy="13.2">。门前演出活动及单页发放并重的营销方式，</tspan><tspan x="326" dy="13.2">取得了良好的效果。并在此期间完成周边同类</tspan><tspan x="326" dy="13.2">项目的调研工作，并写出详细的调研报告。</tspan></text></g>
<g id="f1c2" class="n"><polygon points="320,2318.5 325,2255 525,2255 530,2318.5 525,2382 325,2382"/><text y="2269.3"><tspan x="324">随着__中心一期首批房源正式开盘__中心正式</tspan><tspan x="324" dy="13.2">打开销售的序幕，开盘当天定出房源__套。在</tspan><tspan x="324" dy="13.2">此之前完成开盘前所有的广告及准备工作。开</tspan><tspan x="324" dy="13.2">盘达到预期效果，为后期资金的回笼及项目能</tspan><tspan x="324" dy="13.2">够很好地延续打下坚实的基础，也为__中心在</tspan><tspan x="324" dy="13.2">地产界奠定龙头老大的口碑。前期房源的价格</tspan><tspan x="324" dy="13.2">首次调整。此次活动首次采用短信的推广方式</tspan><tspan x="324" dy="13.2">，可能是由于对号段的掌握并不准确，短信的</tspan><tspan x="324" dy="13.2">效果并不明显。</tspan></text></g>
<g id="f2" class="n"><polygon points="584,2449.5 589,2439 671,2439 676,2449.5 671,2460 589,2460"/><text y="2453.1"><tspan x="589">二、案场管理方面</tspan></text></g>
<g id="f2c" class="n"><polygon points="350,2450 355,2407 558,2407 563,2450 558,2493 355,2493"/><text y="2420.6"><tspan x="354">一个科学、系统而简约的管理制度和管理方式</tspan><tspan x="354" dy="13.2">是凝聚团队走向成功的基石，作为销售部门尤</tspan><tspan x="354" dy="13.2">为重要，为了打造更优秀的销售团队，计划将</tspan><tspan x="354" dy="13.2">从绩效、激励、行为、心态、奖惩等销售人员</tspan><tspan x="354" dy="13.2">最困惑的问题及因素出发，制定更为完善的销</tspan><tspan x="354" dy="13.2">售管理制度。</tspan></text></g>
<g id="f3" class="n"><polygon points="584,2600 589,2589 671,2589 676,2600 671,2611 589,2611"/><text y="2603.6"><tspan x="589">三、销售培训方面</tspan></text></g>
<g id="f3c" class="n"><polygon points="350,2601 355,2517 558,2517 563,2601 558,2685 355,2685"/><text y="2532"><tspan x="354">一个地产项目的成功与否，离不开硬件建设（</tspan><tspan x="354" dy="13.2">地段、资金、户型、配套、建筑品质），也离</tspan><tspan x="354" dy="13.2">不开软件塑造（物业、推广、销售），作为软</tspan><tspan x="354" dy="13.2">件环节中直接面对客户的先锋，销售人员综合</tspan><tspan x="354" dy="13.2">素质的优劣在一定程度上成为客户订房签约的</tspan><tspan x="354" dy="13.2">关键因素，为此，塑造一流的销售团队尤为</tspan><tspan x="354" dy="13.2">重要，针对后续的销售计划和市场情况，将在</tspan><tspan x="354" dy="13.2">培训中添加针对性的培训内容，同时更加细化</tspan><tspan x="354" dy="13.2">，培训涵盖市场调研、房地产基础知识、项目</tspan><tspan x="354" dy="13.2">知识、销售技巧、销售基本流程与特例操作方</tspan><tspan x="354" dy="13.2">案等7大项，以循序渐进、优胜劣汰的培训方</tspan><tspan x="354" dy="13.2">法提高置业顾问的专业水准。</tspan></text></g>
<g id="f4" class="n"><polygon points="584,2802.5 589,2792 671,2792 676,2802.5 671,2813 589,2813"/><text y="2806.1"><tspan x="589">四、营销策划方面</tspan></text></g>
<g id="f4c1" class="n"><polygon points="350,2751 355,2707 558,2707 563,2751 558,2795 355,2795"/><text y="2721.6"><tspan x="354">市场竞争日益激烈，对产品的包装及计划性的</tspan><tspan x="354" dy="13.2">经营，显得尤为重要。针对__中心的营销方式</tspan><tspan x="354" dy="13.2">要更接地气，适应当地市场，将__中心的销售</tspan><tspan x="354" dy="13.2">工作在平稳中更好的推进，适时利用节点推出</tspan><tspan x="354" dy="13.2">适合当地市场的营销活动，把__中心在现有基</tspan><tspan x="354" dy="13.2">础上再推向另一个高度。</tspan></text></g>
<g id="f4c2" class="n"><polygon points="350,2856 355,2818 558,2818 563,2856 558,2894 355,2894"/><text y="2833.2"><tspan x="354">在这一年里，我看到了公司的进步，公司的成</tspan><tspan x="354" dy="13.2">长，我自己也渴望成长，我希望公司能够向大</tspan><tspan x="354" dy="13.2">企业看齐，我也希望自己成为一位名副其实的</tspan><tspan x="354" dy="13.2">地产精英。我要和公司一起努力，一起成长。</tspan><tspan x="354" dy="13.2">在公司领导的带领下，迎接挑战，创造辉煌。</tspan></text></g>
</svg>
